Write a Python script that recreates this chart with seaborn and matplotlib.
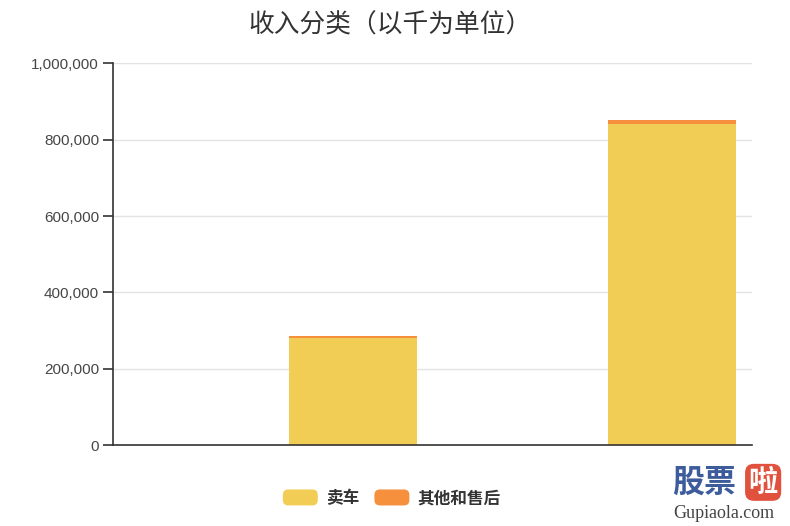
import numpy as np
import pandas as pd
import matplotlib
matplotlib.use("Agg")
import matplotlib.pyplot as plt
import seaborn as sns
from matplotlib.patches import FancyBboxPatch, Patch
from matplotlib.legend_handler import HandlerPatch
from matplotlib.ticker import FuncFormatter


# data (thousands)
years = ["2017", "2018"]
car_sales = [282000, 842000]
other_service = [4000, 10000]
series_names = ["卖车", "其他和售后"]
colors = ["#F2CD56", "#F6903D"]

title = "收入分类（以千为单位）"


sns.set_theme(style="white")
plt.rcParams["font.family"] = ["Noto Sans CJK SC", "DejaVu Sans"]

totals = [a + b for a, b in zip(car_sales, other_service)]

df = pd.DataFrame({
    "year": years,
    "sales": car_sales,
    "total": totals,
})

fig = plt.figure(figsize=(7.9, 5.26), dpi=100)
ax = fig.add_axes([0.143, 0.1534, 0.809, 0.7263])

bar_w = 0.4
shift = 0.25  # empty stack slot on the left of each category

sns.barplot(data=df, x="year", y="total", color=colors[1],
            width=bar_w, saturation=1, ax=ax)
sns.barplot(data=df, x="year", y="sales", color=colors[0],
            width=bar_w, saturation=1, ax=ax)

for p in ax.patches:
    p.set_x(p.get_x() + shift)
    p.set_linewidth(0)

ax.set_xlim(-0.5, len(years) - 0.5)
ax.set_ylim(0, 1000000)
ax.set_yticks(np.arange(0, 1000001, 200000))
ax.yaxis.set_major_formatter(FuncFormatter(lambda v, _: f"{int(v):,}"))

ax.set_xlabel("")
ax.set_ylabel("")
ax.set_xticks([])

ax.grid(axis="y", color="#e3e3e3", linewidth=1)
ax.set_axisbelow(True)

for s in ["top", "right"]:
    ax.spines[s].set_visible(False)
for s in ["left", "bottom"]:
    ax.spines[s].set_color("#333333")
    ax.spines[s].set_linewidth(1.2)

ax.tick_params(axis="y", length=7, width=1.2, color="#333333",
               labelsize=11, labelcolor="#464646", pad=3, left=True)
for lbl in ax.get_yticklabels():
    lbl.set_fontfamily(["Liberation Sans", "DejaVu Sans"])

fig.text(0.494, 0.951, title, ha="center", va="center",
         fontsize=18.5, color="#333333")


def rounded_patch(legend, orig_handle, xdescent, ydescent, width, height, fontsize):
    return FancyBboxPatch((-xdescent, -ydescent), width, height,
                          boxstyle="round,pad=0,rounding_size=4")


handles = [Patch(facecolor=c, edgecolor="none") for c in colors]
leg = fig.legend(handles, series_names, loc="center",
                 bbox_to_anchor=(0.496, 0.053), ncol=2, frameon=False,
                 handlelength=2.1, handleheight=1.1, handletextpad=0.5,
                 columnspacing=0.9,
                 prop={"size": 12, "weight": "bold"},
                 handler_map={Patch: HandlerPatch(patch_func=rounded_patch)})
for t in leg.get_texts():
    t.set_color("#333333")

# watermark
fig.text(0.851, 0.083, "股票", fontsize=23, fontweight="bold",
         color="#3d5c9c", ha="left", va="center")
fig.text(0.966, 0.083, "啦", fontsize=21, fontweight="bold",
         color="white", ha="center", va="center",
         bbox=dict(boxstyle="round,pad=0.12,rounding_size=0.3",
                   facecolor="#e0523e", edgecolor="none"))
fig.text(0.916, 0.023, "Gupiaola.com", fontsize=13,
         family="Liberation Serif", color="#444444",
         ha="center", va="center")

fig.savefig("out.png", dpi=100)
